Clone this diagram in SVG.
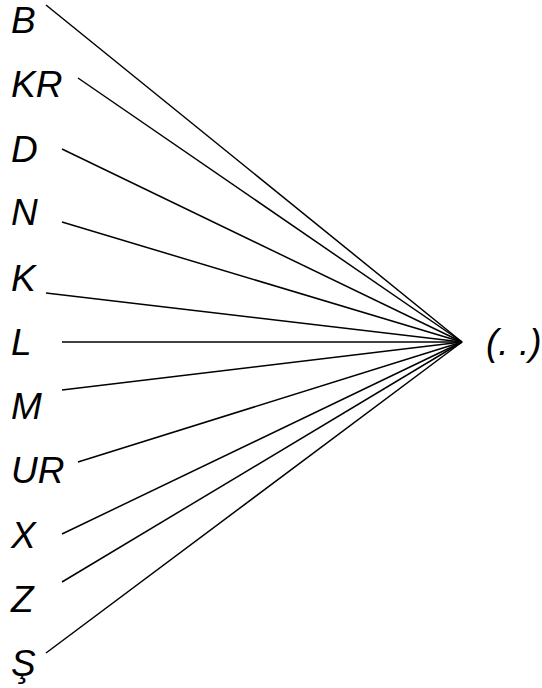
<svg xmlns="http://www.w3.org/2000/svg" width="542" height="688" viewBox="0 0 542 688">
<style>
.lbl{font-family:"Liberation Sans",Arial,sans-serif;font-style:italic;font-size:37px;fill:#000}
.ln{stroke:#000;stroke-width:1.5;fill:none}
</style>
<rect width="542" height="688" fill="#fff"/>
<g id="connectors">
<line class="ln" x1="46" y1="5" x2="462" y2="342"/>
<line class="ln" x1="78" y1="78" x2="462" y2="342"/>
<line class="ln" x1="62" y1="149" x2="462" y2="342"/>
<line class="ln" x1="62" y1="222" x2="462" y2="342"/>
<line class="ln" x1="46" y1="293" x2="462" y2="342"/>
<line class="ln" x1="62" y1="342" x2="462" y2="342"/>
<line class="ln" x1="62" y1="390" x2="462" y2="342"/>
<line class="ln" x1="78" y1="462" x2="462" y2="342"/>
<line class="ln" x1="62" y1="534" x2="462" y2="342"/>
<line class="ln" x1="62" y1="582" x2="462" y2="342"/>
<line class="ln" x1="46" y1="653" x2="462" y2="342"/>
</g>
<g id="n-B"><text class="lbl" x="11" y="33">B</text></g>
<g id="n-KR"><text class="lbl" x="11" y="97">KR</text></g>
<g id="n-D"><text class="lbl" x="11" y="162">D</text></g>
<g id="n-N"><text class="lbl" x="11" y="225">N</text></g>
<g id="n-K"><text class="lbl" x="11" y="291">K</text></g>
<g id="n-L"><text class="lbl" x="11" y="355">L</text></g>
<g id="n-M"><text class="lbl" x="11" y="419">M</text></g>
<g id="n-UR"><text class="lbl" x="11" y="483">UR</text></g>
<g id="n-X"><text class="lbl" x="11" y="548">X</text></g>
<g id="n-Z"><text class="lbl" x="11" y="612">Z</text></g>
<g id="n-S"><text class="lbl" x="11" y="676">Ş</text></g>
<g id="n-target"><text class="lbl" x="486" y="355">(. .)</text></g>
</svg>
